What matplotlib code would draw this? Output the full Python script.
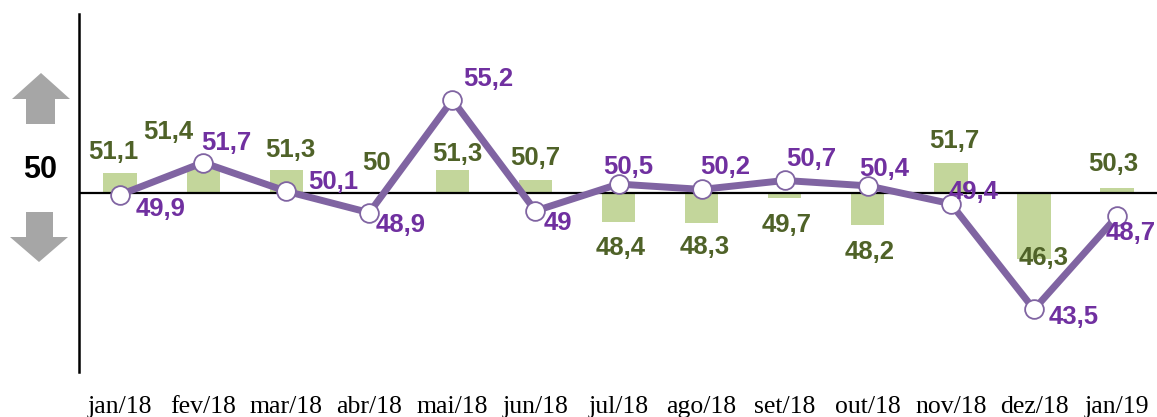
import matplotlib
matplotlib.use("Agg")
import matplotlib.pyplot as plt
import matplotlib.transforms as mtrans
from matplotlib.patches import Polygon

# data
meses = ["jan/18", "fev/18", "mar/18", "abr/18", "mai/18", "jun/18", "jul/18",
         "ago/18", "set/18", "out/18", "nov/18", "dez/18", "jan/19"]
barras = [51.1, 51.4, 51.3, 50.0, 51.3, 50.7, 48.4, 48.3, 49.7, 48.2, 51.7, 46.3, 50.3]
linha = [49.9, 51.7, 50.1, 48.9, 55.2, 49.0, 50.5, 50.2, 50.7, 50.4, 49.4, 43.5, 48.7]

# label offsets (pixels) from bar end / marker
off_barras = [(-7, 21), (-35, 36), (4, 20), (7, 30), (5, 16), (0, 22), (2, -26),
              (3, -24), (2, -27), (2, -27), (3, 22), (10, 1), (-4, 24)]
off_linha = [(41, -14), (23, 20), (47, 9), (31, -12), (36, 21), (22, -12), (10, 17),
             (24, 22), (26, 21), (16, 17), (23, 12), (40, -8), (14, -17)]

verde_barra = "#c3d69b"
verde_txt = "#4f6228"
roxo_linha = "#8064a2"
roxo_txt = "#7030a0"
cinza = "#a6a6a6"

W, H = 1157, 417


def fmt(v):
    if v == int(v):
        return str(int(v))
    return f"{v:.1f}".replace(".", ",")


fig = plt.figure(figsize=(W / 100, H / 100), dpi=100)
ax = fig.add_axes([78.5 / W, 45 / H, (W - 78.5) / W, 358 / H])
ax.set_xlim(-0.5, 12.48)
ax.set_ylim(40, 60)

x = range(len(meses))
ax.bar(x, [b - 50 for b in barras], bottom=50, width=0.4, color=verde_barra, zorder=1)
ax.axhline(50, color="black", lw=1.6, zorder=2)
ax.plot(x, linha, color=roxo_linha, lw=5, marker="o", ms=13.5, mfc="white",
        mec=roxo_linha, mew=1.3, zorder=3)

for i, v in enumerate(barras):
    ax.annotate(fmt(v), (i, v), xytext=off_barras[i], textcoords="offset pixels",
                ha="center", va="center", fontsize=18.5, fontweight="bold",
                color=verde_txt, family="Liberation Sans", zorder=4)
for i, v in enumerate(linha):
    ax.annotate(fmt(v), (i, v), xytext=off_linha[i], textcoords="offset pixels",
                ha="center", va="center", fontsize=18.5, fontweight="bold",
                color=roxo_txt, family="Liberation Sans", zorder=5)

for s in ["top", "right", "bottom"]:
    ax.spines[s].set_visible(False)
ax.spines["left"].set_linewidth(1.8)
ax.set_yticks([])
ax.set_xticks([])

# month labels on the bottom row, baseline a few px above the edge
tr = mtrans.blended_transform_factory(ax.transData, fig.transFigure)
for i, m in enumerate(meses):
    ax.text(i, 4 / H, m, transform=tr, ha="center", va="baseline",
            family="Liberation Serif", fontsize=18.5, clip_on=False)

# "50" and arrows at left
fig.text(40 / W, 1 - 170 / H, "50", ha="center", va="center", fontsize=22,
         fontweight="bold", family="Liberation Sans")


def px(pts):
    return [(a / W, 1 - b / H) for a, b in pts]


seta_cima = [(41, 73), (70, 99), (55, 99), (55, 124), (26, 124), (26, 99), (12, 99)]
seta_baixo = [(26, 212), (53, 212), (53, 237), (68, 237), (39, 262), (10, 237), (26, 237)]
for pts in (seta_cima, seta_baixo):
    fig.add_artist(Polygon(px(pts), closed=True, transform=fig.transFigure,
                           color=cinza, lw=0))

fig.savefig("out.png", dpi=100)
